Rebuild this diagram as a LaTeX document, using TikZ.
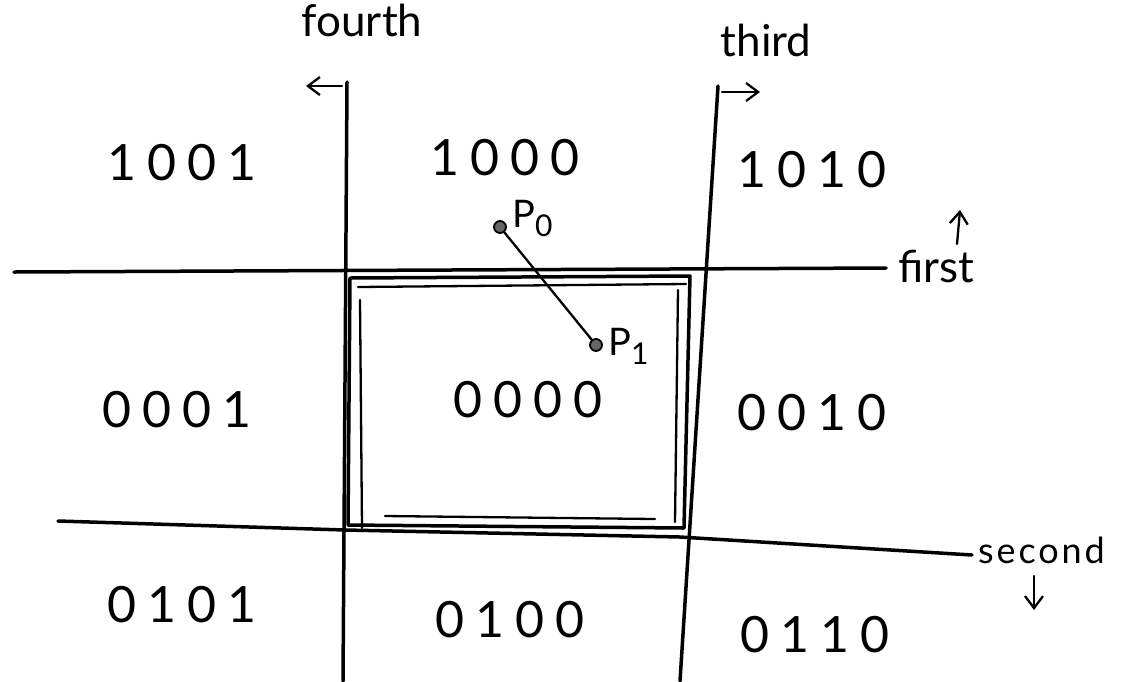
\documentclass[tikz,border=0pt]{standalone}
\usepackage{fontspec}
\setmainfont{Lato}
\usetikzlibrary{arrows.meta}
\tikzset{
  pen/.style={line width=3.5pt, line cap=round, line join=round, black},
  thinpen/.style={line width=2.3pt, line cap=round, line join=round, black},
  code/.style={font=\fontsize{50}{52}\selectfont\addfontfeature{LetterSpace=22}, inner sep=0pt},
  tag/.style={font=\fontsize{44}{46}\selectfont, inner sep=0pt},
  pt/.style={circle, fill=black!60, draw=black, line width=1.8pt, minimum size=12pt, inner sep=0pt},
  hint/.style={thinpen, -{Straight Barb[length=12pt,width=18pt]}}
}
\newcommand{\idx}[1]{\raisebox{-9pt}{\fontsize{30}{32}\selectfont #1}}
\begin{document}
\begin{tikzpicture}[x=1pt,y=-1pt]
\useasboundingbox (0,0) rectangle (1126,681);
\fill[white] (0,0) rectangle (1126,681);

% clipping lines
\coordinate (fA) at (14,272);
\coordinate (fB) at (886,268);
\coordinate (sA) at (58,521);
\coordinate (s1) at (345,530);
\coordinate (s2) at (680,537);
\coordinate (sB) at (972,555);
\coordinate (vA) at (347,82);
\coordinate (vB) at (343,681);
\coordinate (tA) at (718,86);
\coordinate (tB) at (680,681);

\draw[pen] (fA) -- (fB);
\draw[pen] (sA) -- (s1) -- (s2) -- (sB);
\draw[pen] (vA) -- (vB);
\draw[pen] (tA) -- (tB);

% clip window
\draw[pen] (350,278) -- (690,276) -- (684,528) -- (348,525) -- cycle;
\draw[thinpen] (358,287) -- (686,284);
\draw[thinpen] (360,300) -- (362,528);
\draw[thinpen] (678,290) -- (675,522);
\draw[thinpen] (385,516) -- (655,519);

% line labels
\node[tag] (fourth) at (362,20) {fourth};
\node[tag] (third) at (766,40) {third};
\node[tag, anchor=west] (first) at (898,266) {first};
\node[tag, font=\fontsize{36}{38}\selectfont\addfontfeature{LetterSpace=8}, anchor=west] (second) at (978,550) {second};

\coordinate (h4a) at (342,86);
\coordinate (h4b) at (306,86);
\draw[hint] (h4a) -- (h4b);
\coordinate (h3a) at (722,92);
\coordinate (h3b) at (760,92);
\draw[hint] (h3a) -- (h3b);
\coordinate (h1a) at (957,244);
\coordinate (h1b) at (960,210);
\draw[hint] (h1a) -- (h1b);
\coordinate (h2a) at (1034,576);
\coordinate (h2b) at (1034,610);
\draw[hint] (h2a) -- (h2b);

% region codes
\node[code] (c1001) at (182,163) {1001};
\node[code] (c1000) at (505,158) {1000};
\node[code] (c1010) at (812,170) {1010};
\node[code] (c0001) at (177,410) {0001};
\node[code] (c0000) at (528,400) {0000};
\node[code] (c0010) at (812,413) {0010};
\node[code] (c0101) at (182,605) {0101};
\node[code] (c0100) at (510,620) {0100};
\node[code] (c0110) at (815,635) {0110};

% segment P0 P1
\node[pt] (p0) at (500,227) {};
\node[pt] (p1) at (596,345) {};
\draw[thinpen] (p0) -- (p1);
\node[tag, font=\fontsize{38}{40}\selectfont, anchor=west] (lp0) at (512,218) {P\idx{0}};
\node[tag, font=\fontsize{38}{40}\selectfont, anchor=west] (lp1) at (608,346) {P\idx{1}};
\end{tikzpicture}
\end{document}
